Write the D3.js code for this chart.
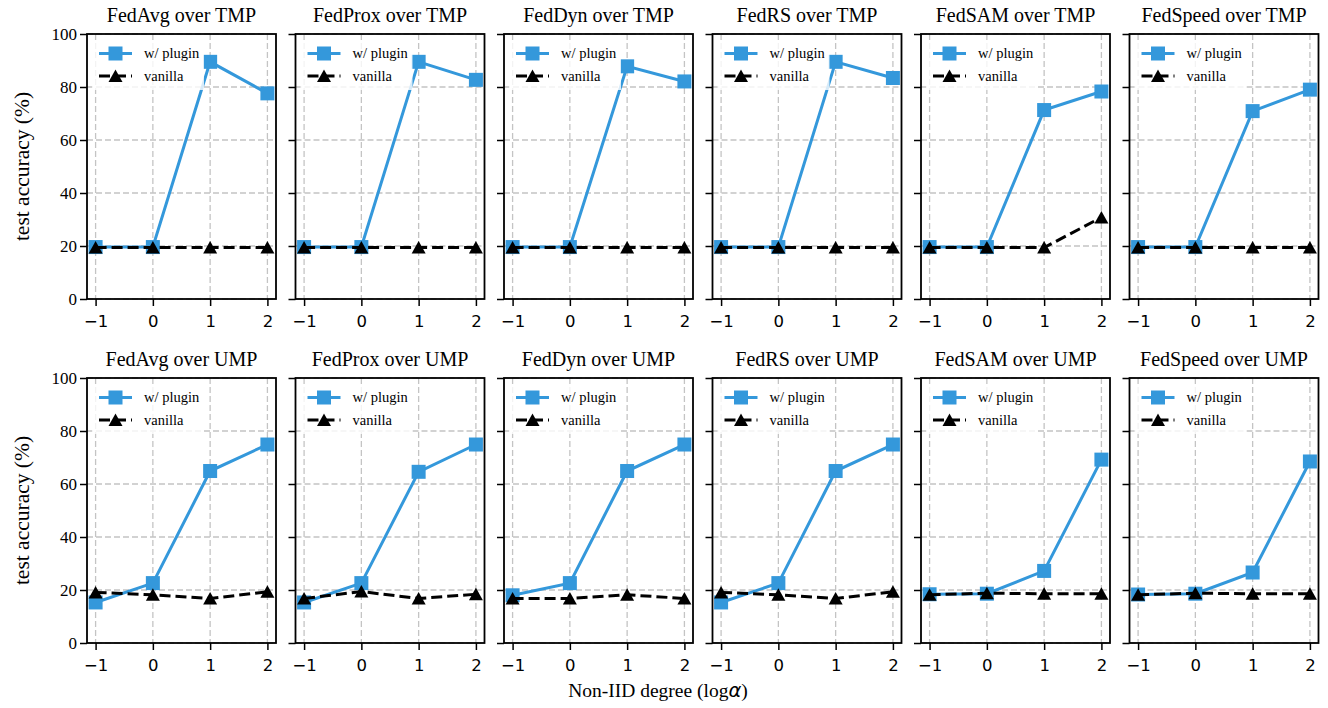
<!DOCTYPE html>
<html>
<head>
<meta charset="utf-8">
<script src="https://cdn.jsdelivr.net/npm/d3@7"></script>
<style>
  body { margin: 0; background: #fff; }
  svg text { fill: #000; }
</style>
</head>
<body>
<div id="chart"></div>
<script>
// data
const methods = ["FedAvg", "FedProx", "FedDyn", "FedRS", "FedSAM", "FedSpeed"];
const settings = ["TMP", "UMP"];
const xTicks = [-1, 0, 1, 2];
const yTicks = [0, 20, 40, 60, 80, 100];
const seriesNames = ["w/ plugin", "vanilla"];

const pluginTMP = [
  [19.6, 19.6, 89.5, 77.6],
  [19.6, 19.6, 89.5, 82.7],
  [19.6, 19.6, 87.8, 82.1],
  [19.6, 19.6, 89.5, 83.4],
  [19.6, 19.6, 71.3, 78.3],
  [19.6, 19.6, 70.9, 79.0]
];
const vanillaTMP = [
  [19.4, 19.4, 19.4, 19.4],
  [19.4, 19.4, 19.4, 19.4],
  [19.4, 19.4, 19.4, 19.4],
  [19.4, 19.4, 19.4, 19.4],
  [19.4, 19.4, 19.4, 30.8],
  [19.4, 19.4, 19.4, 19.4]
];
const pluginUMP = [
  [15.3, 22.6, 64.9, 74.9],
  [15.3, 22.6, 64.6, 74.9],
  [18.0, 22.6, 64.9, 74.9],
  [15.3, 22.6, 64.9, 74.9],
  [18.4, 18.6, 27.2, 69.2],
  [18.3, 18.6, 26.6, 68.5]
];
const vanillaUMP = [
  [19.1, 18.2, 16.8, 19.3],
  [16.8, 19.4, 16.8, 18.4],
  [16.8, 16.8, 18.2, 16.8],
  [19.1, 18.2, 16.8, 19.3],
  [18.2, 18.8, 18.6, 18.6],
  [18.2, 18.8, 18.6, 18.6]
];

const plugin = {TMP: pluginTMP, UMP: pluginUMP};
const vanilla = {TMP: vanillaTMP, UMP: vanillaUMP};

const W = 1328, H = 708;
const panelW = 189, panelH = 265, step = 208.5;
const left0 = 87, rowTop = [34, 378];
const blue = "#3498db";
const serif = "Times New Roman, Liberation Serif, Times, DejaVu Serif, serif";
const sans = "DejaVu Sans, sans-serif";
const gridColor = "#c4c4c4";

const svg = d3.select("#chart")
  .append("svg")
    .attr("width", W)
    .attr("height", H);

const x = d3.scaleLinear().domain([-1.15, 2.15]).range([0, panelW]);
const y = d3.scaleLinear().domain([0, 100]).range([panelH, 0]);

const line = d3.line()
  .x((d, i) => x(xTicks[i]))
  .y(d => y(d));

const triPath = "M0,-6.5L7,6L-7,6Z";

settings.forEach(function(setting, r) {
  methods.forEach(function(method, c) {
    const g = svg.append("g")
      .attr("transform", `translate(${left0 + c * step},${rowTop[r]})`);

    // grid
    g.append("g")
      .selectAll("line")
      .data(xTicks)
      .join("line")
        .attr("x1", d => x(d)).attr("x2", d => x(d))
        .attr("y1", 0).attr("y2", panelH)
        .attr("stroke", gridColor)
        .attr("stroke-width", 1.3)
        .attr("stroke-dasharray", "6,3");
    g.append("g")
      .selectAll("line")
      .data(yTicks)
      .join("line")
        .attr("x1", 0).attr("x2", panelW)
        .attr("y1", d => y(d)).attr("y2", d => y(d))
        .attr("stroke", gridColor)
        .attr("stroke-width", 1.3)
        .attr("stroke-dasharray", "6,3");

    // axes
    const ax = g.append("g")
      .attr("transform", `translate(0,${panelH})`)
      .call(d3.axisBottom(x).tickValues(xTicks).tickSize(7).tickPadding(9).tickFormat(d3.format("d")));
    ax.selectAll("text")
      .style("font-family", sans)
      .style("font-size", "16.5px");
    const ay = g.append("g")
      .call(d3.axisLeft(y).tickValues(yTicks).tickSize(7).tickPadding(3)
        .tickFormat(c === 0 ? d3.format("d") : () => ""));
    ay.selectAll("text")
      .style("font-family", serif)
      .style("font-size", "17px");
    [ax, ay].forEach(a => {
      a.attr("font-family", null).attr("font-size", null);
      a.select(".domain").remove();
      a.selectAll("line").attr("stroke", "#000").attr("stroke-width", 1.5);
    });

    // lines
    const pv = plugin[setting][c], vv = vanilla[setting][c];
    g.append("path")
      .attr("d", line(pv))
      .attr("fill", "none")
      .attr("stroke", blue)
      .attr("stroke-width", 3);
    g.append("g")
      .selectAll("rect")
      .data(pv)
      .join("rect")
        .attr("x", (d, i) => x(xTicks[i]) - 7)
        .attr("y", d => y(d) - 7)
        .attr("width", 14).attr("height", 14)
        .attr("fill", blue);
    g.append("path")
      .attr("d", line(vv))
      .attr("fill", "none")
      .attr("stroke", "#000")
      .attr("stroke-width", 3)
      .attr("stroke-dasharray", "11,5");
    g.append("g")
      .selectAll("path")
      .data(vv)
      .join("path")
        .attr("d", triPath)
        .attr("transform", (d, i) => `translate(${x(xTicks[i])},${y(d)})`)
        .attr("fill", "#000");

    // spines
    g.append("rect")
      .attr("width", panelW).attr("height", panelH)
      .attr("fill", "none")
      .attr("stroke", "#000")
      .attr("stroke-width", 1.8);

    // legend
    const lg = g.append("g");
    lg.append("rect")
      .attr("x", 5).attr("y", 6).attr("width", 112).attr("height", 50)
      .attr("fill", "#fff").attr("opacity", 0.8);
    lg.append("line")
      .attr("x1", 12).attr("x2", 45).attr("y1", 19.5).attr("y2", 19.5)
      .attr("stroke", blue).attr("stroke-width", 3);
    lg.append("rect")
      .attr("x", 28.5 - 7).attr("y", 19.5 - 7).attr("width", 14).attr("height", 14)
      .attr("fill", blue);
    lg.append("line")
      .attr("x1", 12).attr("x2", 45).attr("y1", 42).attr("y2", 42)
      .attr("stroke", "#000").attr("stroke-width", 3)
      .attr("stroke-dasharray", "11,5");
    lg.append("path")
      .attr("d", triPath)
      .attr("transform", "translate(28.5,42)")
      .attr("fill", "#000");
    lg.selectAll("text")
      .data(seriesNames)
      .join("text")
        .attr("x", 57)
        .attr("y", (d, i) => 19.5 + i * 22.5)
        .attr("dy", "0.32em")
        .style("font-family", serif)
        .style("font-size", "14.5px")
        .text(d => d);

    // title
    svg.append("text")
      .attr("x", left0 + c * step + panelW / 2)
      .attr("y", rowTop[r] - 12)
      .attr("text-anchor", "middle")
      .style("font-family", serif)
      .style("font-size", "20px")
      .text(`${method} over ${setting}`);
  });

  svg.append("text")
    .attr("transform", `translate(29,${rowTop[r] + panelH / 2}) rotate(-90)`)
    .attr("text-anchor", "middle")
    .style("font-family", serif)
    .style("font-size", "21.5px")
    .text("test accuracy (%)");
});

const xl = svg.append("text")
  .attr("x", 658)
  .attr("y", 697)
  .attr("text-anchor", "middle")
  .style("font-family", serif)
  .style("font-size", "19.5px");
xl.append("tspan").text("Non-IID degree (log");
xl.append("tspan").style("font-family", sans).style("font-style", "italic").text("α");
xl.append("tspan").text(")");
</script>
</body>
</html>
